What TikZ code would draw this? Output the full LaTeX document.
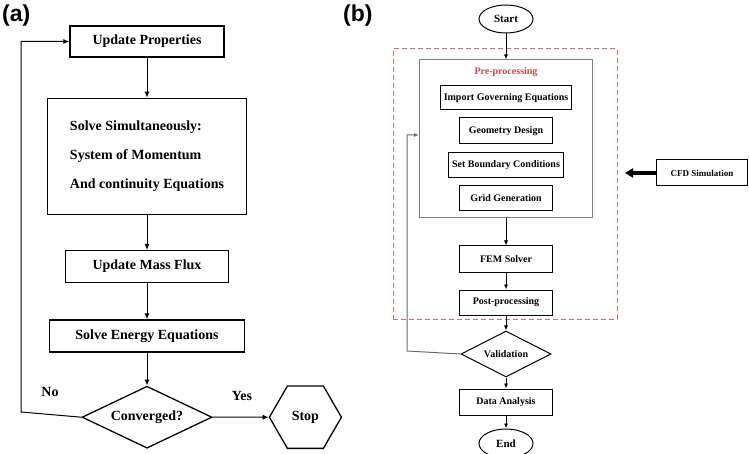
\documentclass[tikz,border=0pt]{standalone}
\usepackage{fontspec}
\setmainfont{Liberation Serif}
\newfontfamily\panelfont{Liberation Sans}
\usepackage{tikz}
\usetikzlibrary{arrows.meta,positioning,shapes.geometric}
\definecolor{zonered}{RGB}{214,112,112}
\definecolor{prered}{RGB}{200,72,72}
\tikzset{
  boxa/.style={draw, line width=1.3pt, rectangle, inner sep=0pt, font=\fontsize{14}{16}\selectfont\bfseries},
  boxb/.style={draw, line width=1pt, rectangle, inner sep=0pt, font=\fontsize{10}{12}\selectfont\bfseries},
  ovalb/.style={boxb, ellipse, font=\fontsize{11}{13}\selectfont\bfseries},
  arra/.style={-{Latex[length=6pt,width=5pt]}, line width=1pt},
  arrb/.style={-{Latex[length=5pt,width=4pt]}, line width=0.9pt},
  loopb/.style={-{Latex[length=5pt,width=4pt]}, line width=1pt, draw=gray!85!black},
  bigarrow/.style={-{Triangle[length=8pt,width=9pt]}, line width=4pt},
  tag/.style={inner sep=0pt, font=\fontsize{14}{16}\selectfont\bfseries},
  panel/.style={anchor=north west, inner sep=0pt, font=\panelfont\bfseries\fontsize{23}{26}\selectfont}
}
\begin{document}
\begin{tikzpicture}
  \useasboundingbox (0,0) rectangle (749pt,-454pt);
  % Panel (a): define nodes
  \node[panel] (laba) at (2pt,-5pt) {(a)};
  \node[boxa, minimum width=154pt, minimum height=31pt] (up) at (147pt,-41.5pt) {Update Properties};
  \node[boxa, minimum width=199pt, minimum height=116pt, below=40pt of up, align=left] (solve)
    {Solve Simultaneously:\\[13pt]System of Momentum\\[13pt]And continuity Equations};
  \node[boxa, minimum width=163pt, minimum height=32pt, below=35pt of solve] (flux) {Update Mass Flux};
  \node[boxa, minimum width=195pt, minimum height=32pt, below=36pt of flux] (energy) {Solve Energy Equations};
  \node[boxa, diamond, aspect=2.1, minimum width=130pt, minimum height=62pt, below=33pt of energy] (conv) {Converged?};
  \node[boxa, regular polygon, regular polygon sides=6, minimum size=72pt, right=56pt of conv] (stop) {Stop};
  \node[tag] (no) at (50pt,-392pt) {No};
  \node[tag] (yes) at (242pt,-396pt) {Yes};
  \coordinate (fa) at (21pt,-412pt);
  % Panel (a): connect the nodes
  \draw[arra] (up) -- (solve);
  \draw[arra] (solve) -- (flux);
  \draw[arra] (flux) -- (energy);
  \draw[arra] (energy) -- (conv);
  \draw[arra] (conv) -- (stop);
  \draw[arra] (conv.west) -- (fa) |- (up.west);

  % Panel (b): define nodes
  \node[panel] (labb) at (343pt,-5pt) {(b)};
  \node[ovalb, minimum width=54pt, minimum height=28pt] (start) at (506pt,-19pt) {Start};
  \node[draw=zonered, dashed, dash pattern=on 5pt off 3pt, line width=1pt, minimum width=224pt, minimum height=270pt] (zone) at (505pt,-184pt) {};
  \node[draw=gray, line width=1pt, minimum width=173pt, minimum height=158pt, inner sep=0pt] (pre) at (506pt,-139pt) {};
  \node[inner sep=0pt, anchor=north, text=prered, font=\fontsize{10}{12}\selectfont\bfseries] (pretitle) at ([yshift=-8pt]pre.north) {Pre-processing};
  \node[boxb, minimum width=131pt, minimum height=24pt] (import) at (506pt,-98pt) {Import Governing Equations};
  \node[boxb, minimum width=93pt, minimum height=26pt, below=7pt of import] (geom) {Geometry Design};
  \node[boxb, minimum width=115pt, minimum height=25pt, below=8pt of geom] (bound) {Set Boundary Conditions};
  \node[boxb, minimum width=93pt, minimum height=25pt, below=7pt of bound] (grid) {Grid Generation};
  \node[boxb, minimum width=93pt, minimum height=26pt, below=27pt of pre] (fem) {FEM Solver};
  \node[boxb, minimum width=93pt, minimum height=25pt, below=17pt of fem] (post) {Post-processing};
  \node[boxb, diamond, aspect=2, minimum width=90pt, minimum height=46pt, below=15pt of post] (valid) {Validation};
  \node[boxb, minimum width=93pt, minimum height=26pt, below=11pt of valid] (data) {Data Analysis};
  \node[ovalb, minimum width=54pt, minimum height=29pt, below=13pt of data] (end) {End};
  \node[boxb, minimum width=91pt, minimum height=26pt, font=\fontsize{9}{11}\selectfont\bfseries] (cfd) at (702pt,-173pt) {CFD Simulation};
  \coordinate (cfdtip) at (625pt,-173pt);
  \coordinate (fb) at (407pt,-351pt);
  % Panel (b): connect the nodes
  \draw[arrb] (start) -- (pre);
  \draw[arrb] (pre) -- (fem);
  \draw[arrb] (fem) -- (post);
  \draw[arrb] (post) -- (valid);
  \draw[arrb] (valid) -- (data);
  \draw[arrb] (data) -- (end);
  \draw[loopb] (valid.west) -- (fb) |- ([yshift=4pt]pre.west);
  \draw[bigarrow] (cfd) -- (cfdtip);
\end{tikzpicture}
\end{document}
